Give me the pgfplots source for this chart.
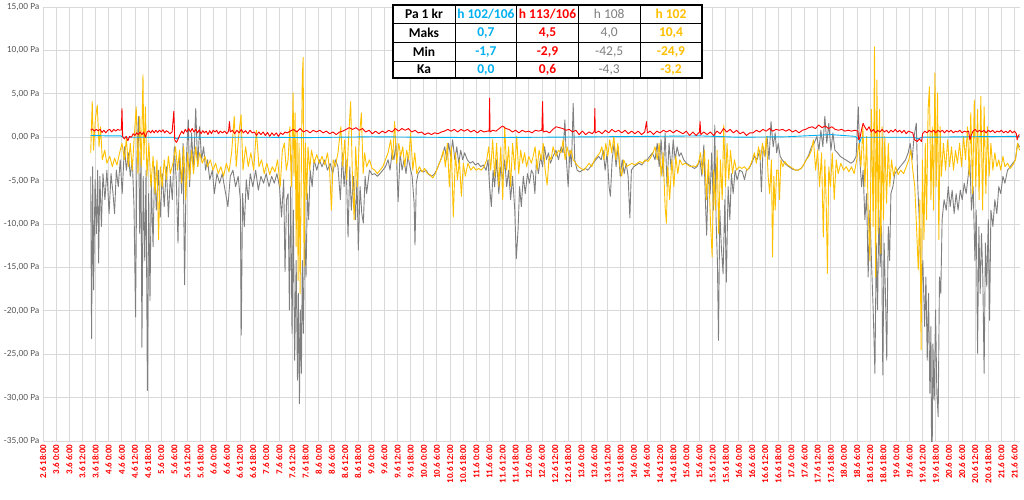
\documentclass[border=0pt]{standalone}
\usepackage{fontspec}
\setmainfont{Carlito}
\usepackage{pgfplots}
\pgfplotsset{compat=1.18}
\definecolor{cblue}{HTML}{00B0F0}
\definecolor{cred}{HTML}{FF0000}
\definecolor{cgray}{HTML}{7F7F7F}
\definecolor{cgold}{HTML}{FFC000}
\definecolor{gridgray}{HTML}{D9D9D9}
\definecolor{tickgray}{HTML}{595959}
\begin{document}
\begin{tikzpicture}[x=1pt,y=1pt]
\path[use as bounding box] (-43,-58) rectangle (981,441);
\begin{axis}[
  at={(0,0)}, anchor=south west, scale only axis,
  width=977pt, height=434pt,
  xmin=0, xmax=446.5, ymin=-35, ymax=15,
  axis line style={draw=none},
  major tick length=0pt,
  grid=major,
  major grid style={draw=gridgray, line width=0.8pt},
  ytick={-35,-30,-25,-20,-15,-10,-5,0,5,10,15},
  yticklabels={{-35,00 Pa},{-30,00 Pa},{-25,00 Pa},{-20,00 Pa},{-15,00 Pa},{-10,00 Pa},{-5,00 Pa},{0,00 Pa},{5,00 Pa},{10,00 Pa},{15,00 Pa}},
  yticklabel style={font=\fontsize{9.4}{10}\selectfont, text=tickgray},
  xtick={0,6,...,444},
  xticklabels={2.6 18:00,
  3.6 0:00,3.6 6:00,3.6 12:00,3.6 18:00,
  4.6 0:00,4.6 6:00,4.6 12:00,4.6 18:00,
  5.6 0:00,5.6 6:00,5.6 12:00,5.6 18:00,
  6.6 0:00,6.6 6:00,6.6 12:00,6.6 18:00,
  7.6 0:00,7.6 6:00,7.6 12:00,7.6 18:00,
  8.6 0:00,8.6 6:00,8.6 12:00,8.6 18:00,
  9.6 0:00,9.6 6:00,9.6 12:00,9.6 18:00,
  10.6 0:00,10.6 6:00,10.6 12:00,10.6 18:00,
  11.6 0:00,11.6 6:00,11.6 12:00,11.6 18:00,
  12.6 0:00,12.6 6:00,12.6 12:00,12.6 18:00,
  13.6 0:00,13.6 6:00,13.6 12:00,13.6 18:00,
  14.6 0:00,14.6 6:00,14.6 12:00,14.6 18:00,
  15.6 0:00,15.6 6:00,15.6 12:00,15.6 18:00,
  16.6 0:00,16.6 6:00,16.6 12:00,16.6 18:00,
  17.6 0:00,17.6 6:00,17.6 12:00,17.6 18:00,
  18.6 0:00,18.6 6:00,18.6 12:00,18.6 18:00,
  19.6 0:00,19.6 6:00,19.6 12:00,19.6 18:00,
  20.6 0:00,20.6 6:00,20.6 12:00,20.6 18:00,
  21.6 0:00,21.6 6:00},
  xticklabel style={rotate=90, anchor=east, font=\fontsize{9}{10}\selectfont\bfseries, text=cred},
  every axis plot/.append style={line width=0.9pt, line join=round, mark=none},
]
% h 108 (gray)
\addplot[cgray] coordinates {
(21.8,-4.5)(22.2,-23.2)(22.7,-3.4)(23.1,-17.6)(23.8,-4.9)(24.4,-11.1)(25.0,-3.8)(25.4,-14.5)(26.0,-4.5)(26.7,-10.3)(27.4,-4.2)(28.3,-7.2)(29.2,-3.8)(30.2,-8.8)(31.1,-4.2)(32.0,-6.5)(32.7,-8.8)(33.5,-3.8)(34.4,-5.7)(35.3,-2.6)(36.2,-6.5)(37.2,-1.1)(38.1,-3.8)(39.0,-1.8)(39.9,-4.5)(40.8,-2.6)(41.6,-8.0)(42.3,-20.7)(42.9,-2.6)(43.6,2.4)(44.2,-11.1)(44.8,-1.8)(45.2,-24.2)(45.8,-4.5)(46.5,-14.2)(47.1,-3.8)(47.7,-29.2)(48.3,-6.5)(48.9,-18.8)(49.5,-4.9)(50.3,-12.6)(51.0,-3.4)(51.8,-8.4)(52.7,-3.8)(53.6,-9.2)(54.5,-4.2)(55.4,-8.0)(56.4,-3.4)(57.3,-9.2)(58.2,-4.5)(59.1,-7.2)(60.0,-1.1)(60.9,-4.9)(61.7,-12.2)(62.4,-1.8)(63.4,-6.5)(64.0,-0.7)(64.7,-17.0)(65.5,-2.6)(66.4,2.0)(67.0,-5.7)(67.9,0.5)(68.8,-3.8)(69.8,3.3)(70.7,-3.4)(71.6,1.2)(72.5,-2.6)(73.4,-1.1)(74.3,-3.8)(75.2,-2.6)(76.2,-4.9)(77.4,-3.8)(78.3,-6.5)(79.5,-4.2)(80.7,-5.3)(81.9,-4.2)(83.2,-6.1)(84.5,-8.0)(85.6,-4.5)(86.8,-3.8)(88.0,-5.7)(89.2,-4.5)(90.2,-7.2)(90.6,-22.8)(91.2,-6.5)(92.0,-10.3)(92.9,-4.9)(93.8,-7.2)(94.7,-4.2)(95.9,-5.7)(97.2,-3.8)(98.4,-6.1)(99.6,-4.5)(100.8,-5.3)(102.0,-4.2)(103.3,-5.7)(104.5,-4.5)(105.7,-5.3)(106.9,-4.2)(108.1,-5.7)(109.0,-9.2)(110.0,-4.9)(110.6,-15.5)(111.3,-7.2)
(112.0,-6.5)(112.6,-19.9)(113.2,-5.7)(113.8,-22.6)(114.4,-8.4)(115.0,-25.7)(115.7,-14.2)(116.3,-28.0)(116.7,-18.0)(117.2,-30.7)(117.6,-19.9)(118.1,-27.2)(118.5,-14.2)(119.0,-22.6)(119.6,-10.3)(120.2,-16.1)(120.8,-6.5)(121.4,-9.5)(122.1,-3.8)(123.0,-5.7)(123.9,-2.6)(125.1,-3.8)(126.3,-2.6)(127.5,-3.4)(128.8,-2.6)(130.0,-3.8)(131.2,-3.0)(132.4,-4.2)(133.6,-2.6)(134.8,-3.4)(135.9,-7.2)(136.8,-1.8)(137.6,-5.7)(138.5,-2.6)(139.4,-11.5)(140.2,-3.4)(140.9,-8.4)(141.9,-4.5)(142.8,-9.5)(143.5,-4.9)(144.1,-13.0)(144.9,-5.7)(145.7,-8.8)(146.4,-9.9)(147.2,-4.5)(147.9,-6.5)(149.2,-3.8)(150.4,-4.3)(151.6,-4.2)(152.8,-4.5)(154.0,-4.2)(155.3,-3.8)(156.5,-3.4)(157.7,-2.6)(158.6,-3.8)(159.5,-1.8)(160.4,-2.6)(161.3,-0.7)(162.3,-7.4)(163.2,-1.8)(164.1,-3.8)(165.0,-2.6)(165.9,-4.2)(166.8,-2.2)(167.7,-3.4)(168.7,-4.5)(169.6,-7.6)(170.0,-12.4)(170.6,-5.3)(171.4,-4.2)(172.6,-3.8)(173.8,-4.0)(175.1,-3.8)(176.3,-4.3)(177.5,-4.5)(178.7,-4.3)(179.9,-3.8)(181.1,-3.0)(182.4,-2.2)(183.6,-1.1)(184.5,-2.6)(185.4,-0.7)(186.3,-2.2)(187.2,-0.3)(188.2,-2.6)(189.1,-1.1)(190.0,-3.0)(190.9,-1.5)(191.8,-2.6)(192.7,-1.8)(193.9,-2.6)(195.2,-3.0)(196.4,-2.8)(197.6,-3.2)(198.8,-3.0)(200.0,-3.4)(201.2,-3.2)(202.5,-3.8)(203.4,-2.6)(204.1,-5.7)(204.9,-8.0)(205.7,-3.8)(206.4,-5.7)(207.3,-2.6)(208.3,-6.5)(209.2,-3.4)(210.1,-4.9)(211.0,-2.6)(211.9,-5.7)(212.8,-3.8)(213.7,-7.2)(214.6,-4.5)(215.6,-8.4)(216.3,-14.0)(217.1,-10.7)(217.8,-5.7)(218.6,-8.0)(219.5,-4.5)(220.4,-6.5)(221.4,-4.2)(222.3,-5.3)(223.2,-3.8)
(224.0,-4.2)(224.8,-6.5)(225.5,-2.6)(226.4,-4.2)(227.4,-2.2)(228.3,-3.4)(229.2,-1.1)(230.1,-2.6)(231.0,-1.8)(231.9,-3.0)(233.1,-2.2)(234.4,-1.5)(235.6,-2.6)(236.8,-1.1)(237.7,-1.8)(238.5,2.0)(239.2,-2.6)(240.0,-5.7)(240.8,-1.5)(241.5,-3.4)(242.3,3.9)(243.0,-2.6)(244.1,-3.8)(245.3,-4.0)(246.5,-3.8)(247.8,-3.6)(249.0,-3.8)(250.2,-3.4)(251.4,-3.0)(252.6,-2.6)(253.9,-2.2)(255.1,-2.6)(256.0,-1.5)(256.9,-3.8)(257.8,-1.8)(258.7,-5.7)(259.3,-6.8)(260.1,-2.6)(261.0,-0.7)(261.9,-3.4)(262.8,-1.1)(263.8,-4.5)(264.7,-2.6)(265.6,-4.2)(266.5,-3.0)(267.4,-4.5)(268.2,-9.3)(268.9,-3.8)(270.0,-3.4)(271.2,-3.2)(272.4,-3.0)(273.6,-3.2)(274.9,-2.8)(276.1,-2.6)(277.3,-2.2)(278.5,-1.8)(279.7,-2.6)(280.7,-0.7)(281.6,-3.4)(282.5,-0.3)(283.4,-4.5)(284.3,0.5)(285.2,-5.7)(286.1,-0.7)(287.1,-3.8)(288.0,-0.3)(288.9,-2.6)(289.8,-1.1)(290.7,-2.2)(291.6,-1.8)(292.8,-2.6)(294.1,-3.0)(295.3,-3.2)(296.5,-3.4)(297.7,-3.6)(298.9,-3.4)(300.2,-2.6)(301.1,-4.5)(302.0,-0.9)(302.7,-7.2)(303.3,-11.3)(304.1,-3.8)(304.9,-6.5)(305.6,-1.8)(306.4,-8.4)(307.0,1.4)(307.6,-9.5)(308.2,-14.2)(308.7,-23.4)(309.3,-8.4)(310.0,-12.6)(310.8,-15.7)(311.6,-7.2)(312.3,-16.7)(313.1,-5.7)(313.9,-9.5)(314.6,-4.2)(315.4,-6.5)(316.3,-3.8)(317.2,-4.9)(318.4,-3.8)(319.6,-4.0)(320.6,-4.9)(321.5,-3.8)(322.7,-3.6)(323.9,-3.0)(325.1,-2.2)(326.3,-2.6)(327.6,-1.5)(328.3,-6.3)(329.1,-1.1)(330.0,-2.2)(330.9,0.1)(331.8,-2.6)(332.7,1.8)(333.7,-1.1)(334.6,0.5)(335.3,-1.8)
(336.0,-0.7)(336.9,-2.2)(337.8,-2.6)(339.0,-3.0)(340.3,-3.3)(341.5,-3.5)(342.7,-3.7)(343.9,-3.8)(345.1,-3.8)(346.4,-3.6)(347.6,-3.2)(348.8,-2.6)(350.0,-2.0)(351.2,-1.1)(352.4,-0.7)(353.7,0.1)(354.6,-1.5)(355.5,0.8)(356.4,-1.1)(357.3,2.4)(358.2,-0.7)(359.1,1.6)(360.1,-1.5)(361.0,0.5)(361.9,-1.5)(363.1,-1.8)(364.3,-2.2)(365.5,-2.4)(366.8,-2.6)(368.0,-2.8)(369.2,-3.0)(370.4,-2.8)(371.6,-2.2)(372.6,3.5)(373.3,-2.6)(374.1,-5.7)(374.8,-3.8)(375.6,-9.5)(376.4,-6.5)(377.1,-16.1)(377.9,-8.4)(378.6,-14.2)(379.4,-19.9)(380.2,-27.2)(380.8,-12.2)(381.4,-19.9)(382.0,-8.4)(382.6,-14.9)(383.2,-10.3)(383.8,-27.4)(384.4,-12.2)(385.0,-18.0)(385.6,-25.7)(386.3,-10.3)(386.9,-14.2)(387.5,-6.5)(388.4,-5.7)(389.3,-4.2)(390.5,-3.8)(391.7,-3.4)(393.0,-3.0)(394.2,-2.6)(395.4,-1.8)(396.3,-0.7)(397.2,-2.6)(398.1,0.1)(399.1,1.6)(399.8,-5.7)(400.6,-10.3)(401.3,-18.0)(402.1,-14.2)(402.9,-21.8)(403.5,-16.1)(404.1,-25.7)(404.7,-18.0)(405.3,-29.5)(405.8,-21.8)(406.2,-42.5)(406.7,-23.8)(407.3,-30.3)(407.9,-19.9)(408.5,-29.5)(409.1,-32.2)(409.7,-16.1)(410.3,-18.0)(410.9,-9.5)(411.8,-7.2)(412.8,-8.4)(413.7,-5.7)(414.6,-8.0)(415.5,-6.1)(416.4,-8.8)(417.3,-6.5)(418.2,-8.4)(419.2,-6.1)(420.1,-7.2)(421.0,-5.3)(421.9,-6.5)(422.8,-4.5)(423.6,-2.6)(424.3,-8.4)(425.1,-5.7)(425.9,-14.2)(426.5,-8.4)(427.1,-24.9)(427.7,-10.3)(428.3,-18.0)(428.9,-11.1)(429.5,-16.1)(430.1,-27.2)(430.7,-12.2)(431.3,-17.2)(432.0,-9.5)(432.6,-21.1)(433.2,-8.4)(434.1,-10.3)(435.0,-7.2)(435.9,-8.8)(436.8,-5.7)(437.7,-6.5)(438.7,-4.5)(439.6,-5.3)(440.8,-3.8)(442.0,-3.4)(443.2,-3.0)(444.4,-2.6)(445.4,-0.7)(446.3,-1.1)
};
% h 102 (gold)
\addplot[cgold] coordinates {
(21.8,-1.8)(22.5,4.1)(23.1,-1.5)(23.9,2.0)(24.8,3.7)(25.6,-1.1)(26.3,1.2)(27.1,-2.6)(28.2,-1.5)(29.2,-3.0)(30.5,-2.2)(31.7,-3.4)(32.7,-2.4)(33.8,-3.2)(35.0,-1.8)(36.1,-0.7)(37.2,-2.6)(38.1,-0.1)(39.0,-3.4)(39.9,-0.7)(40.8,-3.8)(41.7,0.1)(42.6,3.5)(43.4,-4.2)(44.2,2.4)(44.9,-3.4)(45.7,7.2)(46.1,-2.6)(46.8,3.5)(47.5,-4.5)(48.4,-0.7)(49.3,-5.7)(50.3,-2.2)(51.2,-6.5)(52.1,-2.6)(52.8,-11.8)(53.6,-3.4)(54.5,-5.7)(55.4,-2.6)(56.4,-4.9)(57.3,-2.2)(58.2,-4.2)(59.4,-3.0)(60.6,-1.1)(61.5,-3.8)(62.4,-1.5)(63.4,-5.3)(64.3,-1.1)(65.2,-7.2)(66.1,-1.8)(67.0,-4.9)(67.9,-1.5)(68.8,-4.2)(69.8,-1.1)(70.7,-3.4)(71.6,-1.8)(72.8,-3.0)(74.0,-2.2)(75.2,-3.4)(76.5,-2.6)(77.7,-3.8)(78.9,-3.0)(80.1,-4.2)(81.3,-3.4)(82.5,-4.5)(83.8,-3.0)(85.0,-4.0)(86.2,-1.8)(87.4,2.4)(88.3,-3.4)(89.4,0.1)(90.5,2.6)(91.4,-3.8)(92.6,-1.1)(93.8,-3.4)(95.0,-1.8)(96.3,-3.8)(97.5,0.8)(98.7,-3.4)(99.9,-2.6)(101.1,-4.2)(102.3,-3.0)(103.6,-4.3)(104.8,-3.4)(106.0,-4.0)(107.2,-2.6)(108.4,-5.7)(109.4,-1.5)(110.3,-0.7)(111.2,-3.8)
(112.0,-2.6)(112.8,1.2)(113.5,-5.7)(114.3,5.1)(114.7,-4.5)(115.2,2.8)(115.7,-12.6)(116.1,0.8)(116.6,-16.5)(117.0,-0.7)(117.5,-18.0)(118.1,-2.6)(118.5,7.0)(118.9,9.2)(119.3,-14.9)(119.9,-0.7)(120.5,-7.2)(121.1,-1.1)(121.9,-3.8)(122.7,-1.5)(123.9,-3.0)(125.1,-2.0)(126.3,-3.0)(127.5,-2.2)(128.8,-3.2)(130.0,-1.8)(131.0,-3.8)(131.8,-8.4)(132.6,-2.6)(133.6,-3.4)(134.8,-1.8)(136.1,1.2)(137.0,-3.4)(137.9,-0.3)(138.8,-4.9)(139.7,0.1)(140.6,4.1)(141.4,-4.5)(142.2,-9.5)(142.9,-1.1)(143.7,-5.7)(144.6,0.1)(145.5,2.8)(146.3,-4.2)(147.0,-1.8)(147.9,-3.4)(149.2,-2.6)(150.4,-3.6)(151.6,-3.8)(152.8,-4.2)(154.0,-3.8)(155.3,-3.4)(156.5,-2.6)(157.7,-1.8)(158.9,-0.3)(159.8,-2.6)(160.7,1.8)(161.6,-3.0)(162.6,-0.7)(163.5,-2.2)(164.4,-1.1)(165.3,-3.4)(166.2,-1.5)(167.1,-2.6)(168.0,0.5)(169.0,-3.8)(169.9,-1.8)(170.8,-4.2)(172.0,-3.4)(173.2,-4.0)(174.4,-3.6)(175.7,-4.2)(176.9,-4.3)(178.1,-4.7)(179.3,-4.2)(180.5,-3.4)(181.8,-2.6)(183.0,-1.5)(183.9,-3.4)(184.8,-0.7)(185.7,-5.7)(186.6,-1.1)(187.5,-9.2)(188.5,-1.8)(189.4,-4.9)(190.3,-2.6)(191.2,-6.8)(192.1,-3.0)(193.0,-4.5)(194.2,-3.0)(195.5,-3.8)(196.7,-3.4)(197.9,-3.8)(199.1,-3.6)(200.3,-3.8)(201.6,-3.4)(202.8,-2.6)(203.7,-1.1)(204.6,-3.8)(205.5,-0.3)(206.4,-4.5)(207.3,-0.7)(208.3,-5.7)(209.2,-1.1)(210.1,-7.2)(211.0,1.2)(211.9,-3.8)(212.8,-1.1)(213.7,-5.7)(214.6,-0.7)(215.6,-3.8)(216.5,0.1)(217.4,-4.2)(218.3,-1.5)(219.2,-3.0)(220.1,-1.8)(221.0,-3.4)(222.0,-2.2)(223.2,-3.0)
(224.0,-2.2)(224.9,-1.1)(225.8,-3.8)(226.7,-1.5)(227.7,-2.6)(228.6,-0.7)(229.5,-3.8)(230.4,-5.5)(231.3,-2.2)(232.2,-2.6)(233.1,-1.1)(234.4,-2.2)(235.6,-1.5)(236.8,-1.8)(237.7,-0.3)(238.6,-2.6)(239.5,-1.1)(240.4,-2.2)(241.4,-1.5)(242.3,-2.6)(243.5,-3.0)(244.7,-3.4)(245.9,-3.6)(247.2,-3.8)(248.4,-3.4)(249.6,-3.0)(250.8,-3.4)(252.0,-2.6)(253.2,-2.2)(254.5,-1.8)(255.4,-1.1)(256.3,-2.6)(257.2,-0.7)(258.1,-2.2)(259.0,-0.3)(259.9,-1.8)(260.9,0.1)(261.8,-2.6)(262.7,-0.7)(263.6,-3.4)(264.5,-4.5)(265.4,-2.6)(266.6,-3.4)(267.9,-3.2)(269.1,-3.0)(270.3,-3.2)(271.5,-3.0)(272.7,-2.8)(274.0,-3.0)(275.2,-2.6)(276.4,-2.8)(277.6,-2.4)(278.8,-1.8)(279.7,-1.1)(280.7,-2.6)(281.6,-0.7)(282.5,-4.5)(283.4,-1.8)(284.3,-8.0)(284.9,-9.9)(285.5,-3.4)(286.4,-7.2)(287.4,-2.6)(288.3,-5.7)(289.2,-2.2)(290.1,-4.2)(291.0,-2.6)(292.2,-3.2)(293.4,-3.0)(294.7,-3.2)(295.9,-3.4)(297.1,-3.3)(298.3,-3.4)(299.5,-3.0)(300.5,-1.8)(301.4,-4.2)(302.3,-1.5)(303.2,-7.2)(304.1,-2.6)(305.0,-9.5)(305.8,-13.8)(306.5,-3.8)(307.3,-8.4)(308.1,-1.5)(308.8,-11.1)(309.6,-2.6)(310.4,-7.2)(311.1,1.4)(311.9,-5.7)(312.6,-0.7)(313.4,-4.9)(314.2,-1.5)(315.1,-4.2)(316.0,-2.6)(316.9,-3.8)(318.1,-3.4)(319.3,-3.6)(320.6,-3.4)(321.8,-3.8)(323.0,-3.4)(324.2,-2.6)(325.1,-1.8)(326.0,-3.0)(327.0,-1.1)(327.9,-2.6)(328.8,-0.7)(329.7,-2.2)(330.6,0.1)(331.4,-4.5)(332.1,-6.5)(332.9,-2.6)(333.4,-13.8)(334.0,-4.5)(334.6,-8.4)(335.3,-3.8)
(336.0,-3.8)(336.6,-7.2)(337.2,-2.6)(338.1,-3.4)(339.0,-2.8)(340.3,-3.2)(341.5,-3.4)(342.7,-3.6)(343.9,-3.8)(345.1,-3.8)(346.4,-3.6)(347.6,-3.2)(348.8,-2.6)(350.0,-2.2)(351.2,-1.5)(352.1,-0.3)(353.1,-3.8)(354.0,-1.5)(354.9,-5.7)(355.8,-1.8)(356.6,-11.5)(357.3,-2.6)(357.9,-7.2)(358.5,-15.7)(359.1,-3.4)(359.9,-5.7)(360.7,-1.8)(361.6,-7.2)(362.5,-2.6)(363.4,-4.2)(364.6,-3.0)(365.9,-3.8)(367.1,-3.4)(368.3,-4.0)(369.5,-3.4)(370.7,-4.2)(371.9,-2.6)(372.9,-0.7)(373.8,-3.4)(374.7,1.2)(375.6,-5.7)(376.4,0.1)(377.1,-8.4)(377.9,-14.2)(378.6,3.2)(379.4,-10.3)(380.0,10.4)(380.5,-16.1)(381.1,6.6)(381.7,-11.1)(382.3,3.2)(382.9,-13.4)(383.5,1.2)(384.1,-9.5)(384.7,0.1)(385.5,-7.6)(386.3,-0.7)(387.0,-5.7)(387.8,-2.6)(388.7,-4.5)(389.6,-3.4)(390.8,-4.3)(392.0,-3.8)(393.3,-4.2)(394.5,-3.4)(395.7,-2.6)(396.6,-1.5)(397.5,-3.8)(398.4,-5.7)(399.2,-10.3)(400.0,-15.3)(400.7,-7.2)(401.3,-24.5)(401.9,-2.6)(402.6,-11.8)(403.2,-0.7)(403.8,-9.5)(404.5,3.2)(405.1,5.8)(405.8,-7.2)(406.4,1.2)(407.0,-8.4)(407.6,7.4)(408.2,-5.7)(408.8,5.1)(409.4,-11.8)(410.0,1.2)(410.6,-4.5)(411.5,-0.7)(412.5,-3.8)(413.4,-0.3)(414.3,-3.4)(415.2,-1.1)(416.1,-3.8)(417.0,-1.5)(417.9,-3.0)(418.9,-0.7)(419.8,-3.4)(420.7,0.1)(421.6,-2.6)(422.5,1.2)(423.3,-4.5)(424.0,2.8)(424.8,-6.5)(425.6,4.3)(426.3,-5.7)(427.1,3.2)(427.8,-7.2)(428.6,4.7)(429.4,-8.4)(430.1,3.5)(430.9,-6.5)(431.6,1.2)(432.4,-4.5)(433.2,-0.7)(434.1,-3.8)(435.0,-1.8)(435.9,-3.4)(436.8,-2.6)(437.7,-3.8)(438.7,-2.2)(439.6,-3.4)(440.8,-3.0)(442.0,-3.6)(443.2,-3.2)(444.4,-2.6)(445.4,-0.7)(446.3,-1.5)
};
% h 102/106 (blue)
\addplot[cblue] coordinates {
(21.8,0.2)(30,0.15)(35.5,0.15)(36.5,0.0)(60,0.0)(61,-0.2)(62,0.0)(100,0.0)(120,-0.05)(150,0.05)(200,-0.05)(230,0.0)(280,0.1)(300,0.15)(318,0.0)(340,0.05)(352,0.2)(360,0.3)(371,0.1)(372.8,-0.2)(373.3,-0.6)(374,0.0)(398,0.0)(400,-0.2)(401.5,0.0)(446.3,0.1)
};
% h 113/106 (red)
\addplot[cred] coordinates {
(21.8,0.8)(22.6,0.95)(23.4,0.7)(24.3,0.9)(25.2,0.75)(26.1,0.9)(27.0,0.55)(27.8,0.8)(28.7,0.5)(29.6,0.8)(30.5,0.9)(31.4,0.6)(32.3,0.9)(33.2,0.7)(34.1,0.9)(35.0,0.8)(35.8,0.85)(36.1,3.3)(36.4,0.1)(37.2,-0.2)(38.0,0.1)(38.8,-0.4)(39.6,0.1)(40.4,0.0)(41.2,0.4)(42.0,0.2)(42.8,0.5)(43.6,0.3)(44.4,0.6)(45.2,0.3)(46.0,0.6)(46.8,0.0)(47.6,0.6)(48.4,0.75)(49.2,0.5)(50.0,0.8)(50.8,0.5)(51.6,0.8)(52.4,0.55)(53.2,0.8)(54.0,0.6)(54.8,0.85)(55.6,0.5)(56.4,0.75)(57.2,0.6)(58.0,0.4)(59.0,0.6)(59.8,3.0)(60.2,-0.3)(61.0,-0.6)(61.8,-0.2)(62.6,0.3)(63.4,0.7)(64.2,0.4)(65.0,0.9)(65.8,0.6)(66.6,1.0)(67.4,0.6)(68.2,1.0)(69.0,0.6)(69.8,0.9)(70.6,0.5)(71.4,0.85)(72.2,0.4)(73.0,0.75)(73.8,0.5)(74.6,0.7)(75.4,0.3)(76.2,0.75)(77.0,0.4)(77.8,0.8)(78.6,0.6)(79.4,0.8)(80.2,0.4)(81.0,0.7)(82.0,0.5)(83.0,0.7)(84.0,0.4)(84.8,0.7)(85.2,1.8)(85.6,0.6)(86.6,0.8)(87.6,0.4)(88.6,0.8)(89.6,0.5)(90.6,0.9)(91.6,0.5)(92.6,0.75)(93.6,0.4)(94.6,0.8)(95.6,0.5)(96.6,0.6)(97.6,0.2)(98.6,0.6)(99.6,0.3)(100.6,0.6)(101.6,0.2)(102.6,0.55)(103.6,0.1)(104.6,0.5)(105.6,0.2)(106.6,0.5)(107.6,0.1)(108.6,0.5)(109.6,0.3)(110.6,0.6)(111.6,0.5)
(113,0.7)(114.5,0.9)(116,0.6)(117.5,1.0)(119,0.6)(120.5,0.8)(122,0.5)(123.5,0.8)(125,0.6)(126.5,0.8)(128,0.5)(129.5,0.7)(131,0.4)(132.5,0.6)(134,0.3)(135.5,0.6)(137,0.7)(138.5,0.9)(140,1.1)(141.5,0.9)(143,1.1)(144.5,0.8)(146,1.0)(147.5,0.6)(149,0.8)(150.5,0.4)(152,0.7)(153.5,0.4)(155,0.7)(156.5,0.5)(158,0.8)(159.5,0.6)(161,1.0)(162.5,0.7)(164,1.0)(165.5,0.8)(167,1.0)(168.5,0.6)(170,0.8)(171.5,0.5)(173,0.6)(174.5,0.3)(176,0.5)(177.5,0.3)(179,0.5)(180.5,0.4)(182,0.6)(183.5,0.7)(185,0.9)(186.5,0.7)(188,0.9)(189.5,0.6)(191,0.9)(192.5,0.7)(194,0.9)(195.5,0.6)(197,0.8)(198.5,0.5)(200,0.8)(201.5,0.6)(203,0.7)(203.9,0.7)(204.1,4.5)(204.3,0.6)(205.5,0.8)(207,0.7)(208.5,1.0)(210,1.3)(211.5,1.0)(213,0.9)(214.5,0.6)(216,0.8)(217.5,0.5)(219,0.8)(220.5,0.6)(222,0.7)(223.5,0.5)
(225,0.8)(226.5,0.7)(228.0,0.8)(228.3,4.1)(228.6,0.6)(230,0.7)(231.5,0.5)(233,0.9)(234.5,1.2)(236,1.1)(237.5,1.0)(239,0.8)(240.5,0.9)(242,0.6)(243.5,0.8)(245,0.3)(246.5,0.7)(248,0.3)(249.5,0.6)(251,0.4)(252.0,0.7)(252.2,3.3)(252.4,0.5)(254,0.7)(255.5,0.4)(257,0.8)(258.5,0.5)(260,0.9)(261.5,0.6)(263,0.8)(264.5,0.5)(266,0.8)(267.5,0.4)(269,0.7)(270.5,0.4)(272,0.7)(273.5,0.3)(275,0.6)(275.8,1.8)(276.2,0.5)(277.5,0.7)(279,0.3)(280.5,0.7)(282,0.5)(283.5,0.8)(285,0.6)(286.5,0.8)(288,0.5)(289.5,0.8)(291,0.6)(292.5,0.4)(294,0.7)(295.5,0.2)(297,0.6)(298.5,0.2)(300,0.6)(300.3,1.8)(300.6,0.3)(302,0.6)(303.5,0.3)(305,0.6)(306.5,0.2)(308,0.7)(309.5,0.4)(311,1.0)(312.5,0.6)(314,0.9)(315.5,0.5)(317,0.8)(318.5,0.4)(320,0.6)(321.5,0.2)(323,0.5)(324.5,0.5)(326,0.8)(327.5,0.6)(329,0.9)(330.5,0.7)(332,1.0)(333.5,0.7)(335,0.9)
(336.5,0.8)(338,0.9)(339.5,0.7)(341,0.9)(342.5,0.6)(344,0.8)(345.5,0.5)(347,0.8)(348.5,0.9)(350,1.1)(351.5,1.2)(353,1.0)(354.5,1.4)(356,1.1)(357.5,1.3)(359,1.0)(360.5,1.2)(362,0.9)(363.5,0.8)(365,0.9)(366.5,0.7)(368,0.8)(369.5,0.7)(371,0.8)(372.4,0.7)(372.8,-0.3)(373.4,0.0)(374.2,1.0)(374.8,1.6)(375.5,1.2)(376.5,0.8)(377.5,1.2)(378.5,0.6)(379.5,0.9)(380.5,0.5)(381.5,0.8)(382.5,0.6)(383.5,0.9)(384.5,0.6)(385.5,0.8)(386.5,0.5)(387.5,0.8)(388.5,0.6)(389.5,0.9)(390.5,0.6)(391.5,0.8)(392.5,0.5)(393.5,0.8)(394.5,0.4)(395.5,0.7)(396.5,0.6)(397.5,0.5)(398.3,-0.3)(399.5,-0.5)(400.5,-0.2)(401.5,-0.5)(402.0,0.4)(403,0.7)(404,0.5)(405,0.8)(406,0.6)(407,0.8)(408,0.5)(409,0.8)(410,0.6)(411,0.8)(412,0.5)(413,0.8)(414,0.6)(415,0.8)(416,0.5)(417,0.7)(418,0.6)(419,0.8)(420,0.5)(421,0.7)(422,0.6)(423.0,0.7)(423.6,-0.3)(424.2,0.2)(425,0.7)(426,0.9)(427,0.6)(428,0.8)(429,0.6)(430,0.8)(431,0.5)(432,0.8)(433,0.6)(434,0.8)(435,0.5)(436,0.7)(437,0.6)(438,0.8)(439,0.5)(440,0.7)(441,0.5)(442,0.8)(443,0.5)(444,0.7)(444.8,0.4)(445.2,-0.3)(445.8,0.2)(446.3,0.3)
};
\end{axis}
% statistics table
\fill[white] (350,363) rectangle (659,436);
\draw[line width=0.8pt] (412,363)--(412,436) (473.7,363)--(473.7,436) (535.3,363)--(535.3,436) (597,363)--(597,436)
  (350,417.7)--(659,417.7) (350,398.3)--(659,398.3) (350,380)--(659,380);
\draw[line width=1.6pt] (350,363) rectangle (659,436);
\begin{scope}[every node/.style={font=\fontsize{13.5}{15}\selectfont\bfseries, inner sep=0pt, anchor=center}]
\node at (381,426.9) {Pa 1 kr};
\node[text=cblue] at (442.9,426.9) {h 102/106};
\node[text=cred] at (504.5,426.9) {h 113/106};
\node[text=cgray, font=\fontsize{13.5}{15}\selectfont] at (566.2,426.9) {h 108};
\node[text=cgold] at (628,426.9) {h 102};
\node at (381,408) {Maks};
\node[text=cblue] at (442.9,408) {0,7};
\node[text=cred] at (504.5,408) {4,5};
\node[text=cgray, font=\fontsize{13.5}{15}\selectfont] at (566.2,408) {4,0};
\node[text=cgold] at (628,408) {10,4};
\node at (381,389.2) {Min};
\node[text=cblue] at (442.9,389.2) {-1,7};
\node[text=cred] at (504.5,389.2) {-2,9};
\node[text=cgray, font=\fontsize{13.5}{15}\selectfont] at (566.2,389.2) {-42,5};
\node[text=cgold] at (628,389.2) {-24,9};
\node at (381,371.5) {Ka};
\node[text=cblue] at (442.9,371.5) {0,0};
\node[text=cred] at (504.5,371.5) {0,6};
\node[text=cgray, font=\fontsize{13.5}{15}\selectfont] at (566.2,371.5) {-4,3};
\node[text=cgold] at (628,371.5) {-3,2};
\end{scope}
\end{tikzpicture}
\end{document}
